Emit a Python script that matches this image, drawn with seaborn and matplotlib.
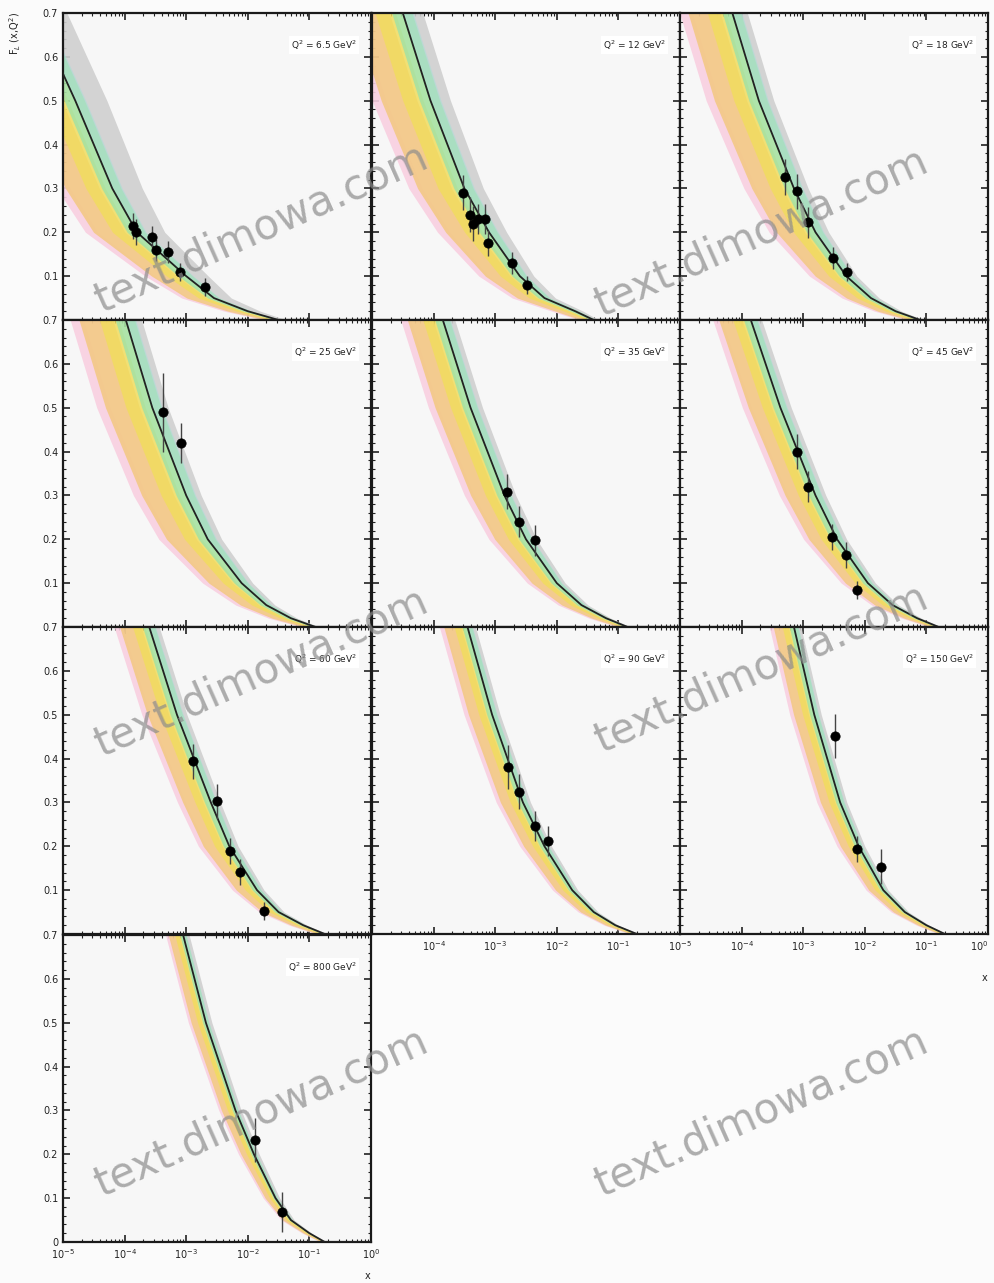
import numpy as np
import pandas as pd
import matplotlib
matplotlib.use("Agg")
import matplotlib.pyplot as plt
import seaborn as sns
from matplotlib.ticker import LogLocator, MultipleLocator, FixedLocator, FixedFormatter, NullFormatter

sns.set_style("ticks")
plt.rcParams['font.family'] = ['DejaVu Sans']

# ---------------- data ----------------
q2_labels = ["6.5", "12", "18", "25", "35", "45", "60", "90", "150", "800"]

# central curve: log10(x) where the curve reaches these F_L levels
f_levels = [0.7, 0.5, 0.3, 0.2, 0.1, 0.05, 0.02, 0.0]
curve_q6_5 = [-5.45, -4.80, -4.20, -3.80, -3.00, -2.55, -2.00, -1.50]
curve_q12 = [-4.50, -4.05, -3.50, -3.10, -2.60, -2.20, -1.70, -1.40]
curve_q18 = [-4.15, -3.72, -3.15, -2.80, -2.30, -1.90, -1.50, -1.10]
curve_q25 = [-3.98, -3.55, -3.00, -2.65, -2.10, -1.70, -1.30, -0.90]
curve_q35 = [-3.85, -3.40, -2.85, -2.50, -2.00, -1.60, -1.20, -0.85]
curve_q45 = [-3.85, -3.37, -2.80, -2.45, -1.95, -1.55, -1.15, -0.80]
curve_q60 = [-3.60, -3.15, -2.60, -2.30, -1.85, -1.50, -1.10, -0.75]
curve_q90 = [-3.45, -3.05, -2.55, -2.20, -1.75, -1.40, -1.05, -0.70]
curve_q150 = [-3.15, -2.82, -2.40, -2.10, -1.70, -1.35, -1.00, -0.70]
curve_q800 = [-3.05, -2.68, -2.20, -1.90, -1.55, -1.30, -1.00, -0.75]

# band edges, in decades relative to the central curve at the same F_L
band_names = ["gray", "pink", "orange", "yellow", "green", "cyan"]
band_lo = [0.03, -0.95, -0.80, -0.45, -0.18, 0.00]
band_hi = [0.27, -0.72, -0.22, -0.12, 0.15, 0.17]
band_colors = ["#cfcfcf", "#f9cfe0", "#f3c98a", "#f1dc5e", "#a7e2a2", "#a9ddd8"]
band_alpha = [0.9, 0.9, 0.95, 0.85, 0.9, 0.55]
# how wide the bands stay at each F_L level (they close up towards F_L = 0)
band_width_at_level = [1.0, 1.0, 0.95, 0.88, 0.70, 0.55, 0.40, 0.25]
# overall width of the bands in each panel (they narrow as Q^2 grows)
band_width_per_panel = [1.0, 1.0, 0.9, 0.95, 0.72, 0.65, 0.6, 0.48, 0.42, 0.3]
# extra width of the grey band in each panel
gray_width_per_panel = [1.9, 1.2, 1.0, 1.0, 1.0, 1.0, 1.0, 1.0, 1.0, 1.2]

# measured points: log10(x), F_L, error
pts_q6_5_lx = [-3.87, -3.82, -3.56, -3.49, -3.30, -3.10, -2.70]
pts_q6_5_f = [0.214, 0.200, 0.190, 0.160, 0.155, 0.110, 0.075]
pts_q6_5_e = [0.030, 0.030, 0.025, 0.025, 0.025, 0.020, 0.020]
pts_q12_lx = [-3.52, -3.41, -3.36, -3.28, -3.17, -3.12, -2.73, -2.49]
pts_q12_f = [0.290, 0.240, 0.220, 0.230, 0.230, 0.175, 0.130, 0.080]
pts_q12_e = [0.040, 0.040, 0.040, 0.035, 0.035, 0.030, 0.025, 0.020]
pts_q18_lx = [-3.30, -3.10, -2.93, -2.52, -2.29]
pts_q18_f = [0.326, 0.294, 0.223, 0.141, 0.109]
pts_q18_e = [0.040, 0.040, 0.035, 0.025, 0.020]
pts_q25_lx = [-3.38, -3.09]
pts_q25_f = [0.490, 0.420]
pts_q25_e = [0.090, 0.045]
pts_q35_lx = [-2.81, -2.62, -2.36]
pts_q35_f = [0.308, 0.240, 0.198]
pts_q35_e = [0.040, 0.035, 0.035]
pts_q45_lx = [-3.10, -2.93, -2.54, -2.31, -2.13]
pts_q45_f = [0.400, 0.320, 0.205, 0.164, 0.084]
pts_q45_e = [0.040, 0.035, 0.030, 0.030, 0.020]
pts_q60_lx = [-2.89, -2.50, -2.29, -2.12, -1.73]
pts_q60_f = [0.394, 0.303, 0.190, 0.141, 0.052]
pts_q60_e = [0.040, 0.040, 0.030, 0.030, 0.020]
pts_q90_lx = [-2.80, -2.62, -2.36, -2.15]
pts_q90_f = [0.380, 0.324, 0.246, 0.212]
pts_q90_e = [0.050, 0.040, 0.035, 0.035]
pts_q150_lx = [-2.48, -2.13, -1.73]
pts_q150_f = [0.451, 0.194, 0.153]
pts_q150_e = [0.050, 0.030, 0.040]
pts_q800_lx = [-1.89, -1.45]
pts_q800_f = [0.233, 0.068]
pts_q800_e = [0.050, 0.045]

curves = [curve_q6_5, curve_q12, curve_q18, curve_q25, curve_q35,
          curve_q45, curve_q60, curve_q90, curve_q150, curve_q800]
points = [(pts_q6_5_lx, pts_q6_5_f, pts_q6_5_e), (pts_q12_lx, pts_q12_f, pts_q12_e),
          (pts_q18_lx, pts_q18_f, pts_q18_e), (pts_q25_lx, pts_q25_f, pts_q25_e),
          (pts_q35_lx, pts_q35_f, pts_q35_e), (pts_q45_lx, pts_q45_f, pts_q45_e),
          (pts_q60_lx, pts_q60_f, pts_q60_e), (pts_q90_lx, pts_q90_f, pts_q90_e),
          (pts_q150_lx, pts_q150_f, pts_q150_e), (pts_q800_lx, pts_q800_f, pts_q800_e)]

# ---------------- layout ----------------
W, H = 994, 1283
fig = plt.figure(figsize=(W / 100, H / 100), dpi=100)
fig.patch.set_facecolor("#fbfbfb")
col_x = [63, 372, 680]
col_w = 308
row_y = [13, 320, 627, 935]
row_h = 307

panel_pos = [(0, 0), (0, 1), (0, 2), (1, 0), (1, 1), (1, 2), (2, 0), (2, 1), (2, 2), (3, 0)]
xtick_labels = [r"10$^{-5}$", r"10$^{-4}$", r"10$^{-3}$", r"10$^{-2}$", r"10$^{-1}$", r"10$^{0}$"]
label_axes = []

for i, (r, c) in enumerate(panel_pos):
    left = col_x[c] / W
    bottom = 1 - (row_y[r] + row_h) / H
    ax = fig.add_axes([left, bottom, col_w / W, row_h / H])
    ax.set_facecolor("#f7f7f7")
    lx = np.array(curves[i])
    fl = np.array(f_levels)
    wl = np.array(band_width_at_level) * band_width_per_panel[i]
    for name, lo, hi, colr, al in zip(band_names, band_lo, band_hi, band_colors, band_alpha):
        if name == "gray":
            hi = hi * gray_width_per_panel[i]
        ax.fill_betweenx(fl, 10 ** (lx + lo * wl), 10 ** (lx + hi * wl), color=colr, alpha=al,
                         lw=0, zorder=1)
    df_curve = pd.DataFrame({"x": 10 ** np.append(lx, 0.0), "F": np.append(fl, 0.0)})
    sns.lineplot(data=df_curve, x="x", y="F", sort=False, color="#222222", lw=1.3, ax=ax, zorder=3)
    plx, pf, pe = points[i]
    df_pts = pd.DataFrame({"x": 10 ** np.array(plx), "F": pf, "e": pe})
    ax.errorbar(df_pts["x"], df_pts["F"], yerr=df_pts["e"], fmt="none", ecolor="#444444",
                elinewidth=1.0, capsize=0, zorder=4)
    sns.scatterplot(data=df_pts, x="x", y="F", color="black", s=45, edgecolor="black",
                    linewidth=0.5, ax=ax, zorder=5, legend=False)

    ax.set_xscale("log")
    ax.set_xlim(1e-5, 1)
    ax.set_ylim(0, 0.7)
    ax.set_xlabel("")
    ax.set_ylabel("")
    ax.xaxis.set_major_locator(LogLocator(base=10, numticks=10))
    ax.xaxis.set_minor_locator(LogLocator(base=10, subs=np.arange(2, 10), numticks=20))
    ax.yaxis.set_major_locator(MultipleLocator(0.1))
    ax.yaxis.set_minor_locator(MultipleLocator(0.02))
    ax.tick_params(which="both", direction="in", top=True, right=True, colors="#222222")
    ax.tick_params(which="major", length=5, width=1.2, labelsize=7)
    ax.tick_params(which="minor", length=2.5, width=0.8)
    for sp in ax.spines.values():
        sp.set_linewidth(1.6)
        sp.set_color("#1a1a1a")

    # y tick labels only on the left column
    if c == 0:
        yt = [0.0, 0.1, 0.2, 0.3, 0.4, 0.5, 0.6, 0.7]
        ylab = ["0" if r == 3 else "", "0.1", "0.2", "0.3", "0.4", "0.5", "0.6", "0.7"]
        ax.yaxis.set_major_locator(FixedLocator(yt))
        ax.yaxis.set_major_formatter(FixedFormatter(ylab))
    else:
        ax.yaxis.set_major_formatter(NullFormatter())

    # x tick labels only on the bottom panels
    if i == 9 or (r == 2 and c > 0):
        ax.xaxis.set_major_locator(FixedLocator([1e-5, 1e-4, 1e-3, 1e-2, 1e-1, 1]))
        labs = list(xtick_labels)
        if c == 1:
            labs[0] = ""
            labs[5] = ""
        ax.xaxis.set_major_formatter(FixedFormatter(labs))
        ax.tick_params(axis="x", labelsize=7, pad=4)
        if c == 2:
            label_axes.append(ax)
    else:
        ax.xaxis.set_major_formatter(NullFormatter())
    ax.xaxis.set_minor_formatter(NullFormatter())

    ax.text(0.955, 0.895, r"Q$^2$ = " + q2_labels[i] + r" GeV$^2$", transform=ax.transAxes,
            ha="right", va="center", fontsize=6.5, color="#222222", zorder=6,
            bbox=dict(facecolor="white", edgecolor="none", pad=1.5))

# keep the last tick label of the right column inside the figure
fig.canvas.draw()
for ax in label_axes:
    tl = ax.get_xticklabels()
    if tl:
        tl[-1].set_horizontalalignment("right")

# axis titles
fig.text(15 / W, 1 - 12 / H, r"F$_L$ (x,Q$^2$)", rotation=90, ha="center", va="top", fontsize=7,
         color="#222222")
fig.text(985 / W, 1 - 978 / H, "x", ha="center", va="center", fontsize=7, color="#222222")
fig.text(368 / W, 1 - 1276 / H, "x", ha="center", va="center", fontsize=7, color="#222222")

# watermark
for (wx, wy) in [(262, 228), (762, 232), (262, 672), (762, 668), (262, 1112), (762, 1112)]:
    fig.text(wx / W, 1 - wy / H, "text.dimowa.com", rotation=24, ha="center", va="center",
             fontsize=30, color="#8c8c8c", alpha=0.7, zorder=10)

fig.savefig("out.png", dpi=100, facecolor=fig.get_facecolor())
